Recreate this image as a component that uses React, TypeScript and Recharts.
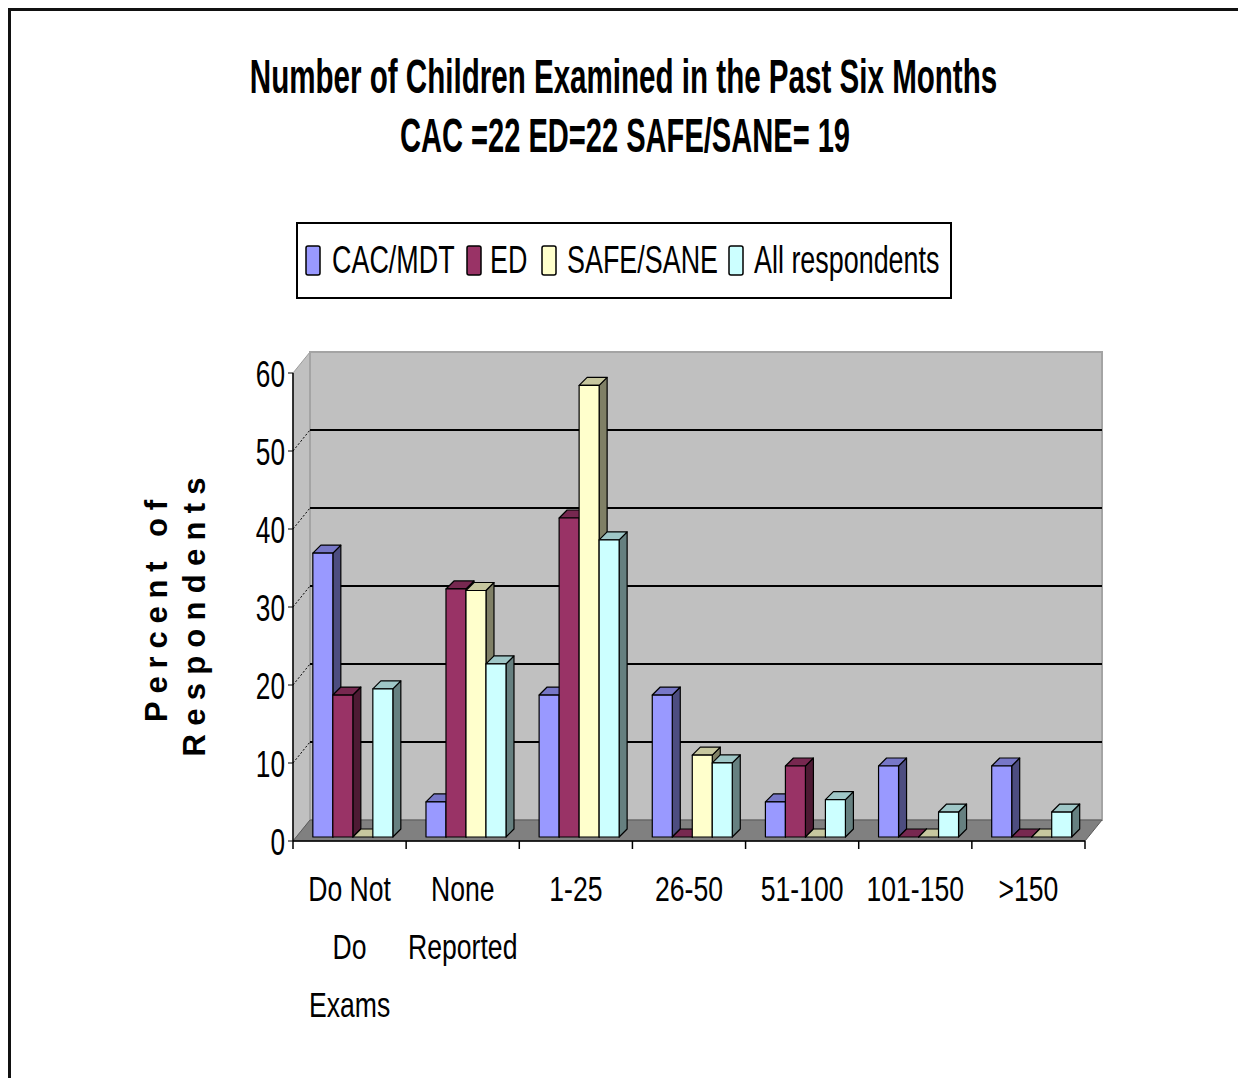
import React from "react";
import { BarChart, Bar, XAxis, YAxis, CartesianGrid, ReferenceArea, Legend } from "recharts";

// categories (line breaks as in the picture)
const categories = ["Do Not\nDo\nExams", "None\nReported", "1-25", "26-50", "51-100", "101-150", ">150"];
// percent of respondents per group
const cacMdt = [36.4, 4.5, 18.2, 18.2, 4.5, 9.1, 9.1];
const ed = [18.2, 31.8, 40.9, 0, 9.1, 0, 0];
const safeSane = [0, 31.6, 57.9, 10.5, 0, 0, 0];
const allRespondents = [19.0, 22.2, 38.1, 9.5, 4.8, 3.2, 3.2];
const yTicks = [0, 10, 20, 30, 40, 50, 60];

const seriesNames = ["CAC/MDT", "ED", "SAFE/SANE", "All respondents"];
const seriesColors = ["#9999FF", "#993366", "#FFFFCC", "#CCFFFF"];

const data = categories.map((c, i) => ({
  category: c,
  cac: cacMdt[i],
  ed: ed[i],
  safe: safeSane[i],
  all: allRespondents[i],
}));
const keys = ["cac", "ed", "safe", "all"];

const W = 1238;
const H = 1078;
const PLOT_LEFT = 293;
const PLOT_RIGHT = 1085;
const PLOT_TOP = 373;
const PLOT_BOTTOM = 841;
const Y_AXIS_W = 60;
const X_AXIS_H = 30;
const FONT = "'Liberation Sans', Arial, sans-serif";

// 3d depth of the walls and of the bars
const DX = 17;
const DY = 21;
const BX = 4;
const BY = 4;
const BD = 8;

function shade(hex: string, k: number) {
  const n = parseInt(hex.slice(1), 16);
  const r = Math.round(((n >> 16) & 255) * k);
  const g = Math.round(((n >> 8) & 255) * k);
  const b = Math.round((n & 255) * k);
  return `rgb(${r},${g},${b})`;
}

const Walls = (p: any) => {
  const { x, y, width: w, height: h } = p;
  const b = y + h;
  return (
    <g>
      <polygon points={`${x},${b} ${x},${y} ${x + DX},${y - DY} ${x + DX},${b - DY}`} fill="#c0c0c0" stroke="#9c9c9c" />
      <rect x={x + DX} y={y - DY} width={w} height={h} fill="#c0c0c0" stroke="#a4a4a4" strokeWidth={2} />
      <polygon points={`${x},${b} ${x + w},${b} ${x + w + DX},${b - DY} ${x + DX},${b - DY}`} fill="#808080" stroke="#5a5a5a" />
    </g>
  );
};

const GridLine = (p: any) => {
  const { x1, x2, y1 } = p;
  if (Math.abs(y1 - PLOT_BOTTOM) < 1 || Math.abs(y1 - PLOT_TOP) < 1) return <g key={p.key} />;
  return (
    <g key={p.key}>
      <line x1={x1 + DX} x2={x2 + DX} y1={y1 - DY} y2={y1 - DY} stroke="#000" strokeWidth={2.2} />
      <line x1={x1} y1={y1} x2={x1 + DX} y2={y1 - DY} stroke="#000" strokeWidth={1} strokeDasharray="2 2" />
    </g>
  );
};

const makeBar = (color: string) => (p: any) => {
  const { x, y, width: w, height: h } = p;
  const fx = x + BX;
  const fy = y - BY;
  const bottom = fy + h;
  return (
    <g stroke="#000" strokeWidth={1.2} strokeLinejoin="round">
      <polygon points={`${fx + w},${fy} ${fx + w + BD},${fy - BD} ${fx + w + BD},${bottom - BD} ${fx + w},${bottom}`} fill={shade(color, 0.5)} />
      <polygon points={`${fx},${fy} ${fx + BD},${fy - BD} ${fx + w + BD},${fy - BD} ${fx + w},${fy}`} fill={shade(color, 0.78)} />
      {h > 0 && <rect x={fx} y={fy} width={w} height={h} fill={color} />}
    </g>
  );
};

const YTick = (p: any) => (
  <text transform={`translate(${p.x},${p.y}) scale(0.7,1)`} x={0} y={13.5} textAnchor="end" fontSize={37.5} fontFamily={FONT} fill="#000">
    {p.payload.value}
  </text>
);

// category labels, with tick marks on the category edges (Excel style)
const XTick = (p: any) => {
  const lines = String(p.payload.value).split("\n");
  const n = p.visibleTicksCount || categories.length;
  const band = (p.width || PLOT_RIGHT - PLOT_LEFT) / n;
  const last = p.index === n - 1;
  return (
    <g transform={`translate(${p.x},${PLOT_BOTTOM})`}>
      <line x1={-band / 2} x2={-band / 2} y1={0} y2={8} stroke="#000" strokeWidth={1.5} />
      {last && <line x1={band / 2} x2={band / 2} y1={0} y2={8} stroke="#000" strokeWidth={1.5} />}
      {lines.map((l, i) => (
        <text key={i} transform="scale(0.76,1)" x={0} y={60 + i * 58} textAnchor="middle" fontSize={35} fontFamily={FONT} fill="#000">
          {l}
        </text>
      ))}
    </g>
  );
};

// legend layout, relative to the legend box
const LEG_SWATCH_X = [10, 171, 246, 433];
const LEG_TEXT_X = [36, 194, 271, 458];

const renderLegend = (props: any) => {
  const items = [...(props.payload ?? [])].sort(
    (a: any, b: any) => seriesNames.indexOf(a.value) - seriesNames.indexOf(b.value)
  );
  return (
    <svg width={656} height={77} style={{ display: "block" }}>
      <rect x={1} y={1} width={654} height={75} fill="#fff" stroke="#000" strokeWidth={2} />
      {items.map((it: any) => {
        const i = seriesNames.indexOf(it.value);
        return (
          <g key={it.value}>
            <rect x={LEG_SWATCH_X[i]} y={24} width={14} height={29} rx={2} fill={seriesColors[i]} stroke="#000" strokeWidth={1.5} />
            <text transform={`translate(${LEG_TEXT_X[i]},51) scale(0.69,1)`} fontSize={39} fontFamily={FONT} fill="#000">
              {it.value}
            </text>
          </g>
        );
      })}
    </svg>
  );
};

export default function App() {
  return (
    <div style={{ position: "absolute", left: 0, top: 0, width: W, height: H, background: "#fff", overflow: "hidden" }}>
      <svg width={W} height={H} style={{ position: "absolute", left: 0, top: 0 }}>
        <rect x={9.5} y={9.5} width={W + 20} height={H + 20} fill="none" stroke="#111" strokeWidth={3} />
        <text transform="translate(623.5,93) scale(0.616,1)" textAnchor="middle" fontSize={48} fontWeight="bold" fontFamily={FONT}>
          Number of Children Examined in the Past Six Months
        </text>
        <text transform="translate(625,152) scale(0.606,1)" textAnchor="middle" fontSize={48} fontWeight="bold" fontFamily={FONT}>
          CAC =22 ED=22 SAFE/SANE= 19
        </text>
        <text transform="translate(167,611) rotate(-90)" textAnchor="middle" fontSize={31} fontWeight="bold" fontFamily={FONT} textLength={222} lengthAdjust="spacing">
          Percent of
        </text>
        <text transform="translate(205,617) rotate(-90)" textAnchor="middle" fontSize={31} fontWeight="bold" fontFamily={FONT} textLength={279} lengthAdjust="spacing">
          Respondents
        </text>
      </svg>
      <div style={{ position: "absolute", left: 0, top: 0 }}>
        <BarChart
          width={W}
          height={H}
          data={data}
          barCategoryGap="14%"
          barGap={0}
          margin={{ top: PLOT_TOP, bottom: H - PLOT_BOTTOM - X_AXIS_H, left: PLOT_LEFT - Y_AXIS_W, right: W - PLOT_RIGHT }}
        >
          <ReferenceArea y1={0} y2={60} ifOverflow="visible" shape={Walls} zIndex={-200} />
          <CartesianGrid vertical={false} horizontal={GridLine} />
          <XAxis
            dataKey="category"
            height={X_AXIS_H}
            tickLine={false}
            tickSize={0}
            tickMargin={0}
            interval={0}
            axisLine={{ stroke: "#000", strokeWidth: 1.5 }}
            tick={XTick}
          />
          <YAxis
            width={Y_AXIS_W}
            domain={[0, 60]}
            ticks={yTicks}
            interval={0}
            tickSize={5}
            tickMargin={3}
            axisLine={{ stroke: "#000", strokeWidth: 1.5 }}
            tickLine={{ stroke: "#000" }}
            tick={YTick}
          />
          <Legend
            layout="horizontal"
            verticalAlign="middle"
            align="center"
            wrapperStyle={{ position: "absolute", left: 296, top: 222, width: 656, height: 77 }}
            content={renderLegend}
          />
          {keys.map((k, i) => (
            <Bar
              key={k}
              dataKey={k}
              name={seriesNames[i]}
              fill={seriesColors[i]}
              shape={makeBar(seriesColors[i])}
              isAnimationActive={false}
            />
          ))}
        </BarChart>
      </div>
    </div>
  );
}
